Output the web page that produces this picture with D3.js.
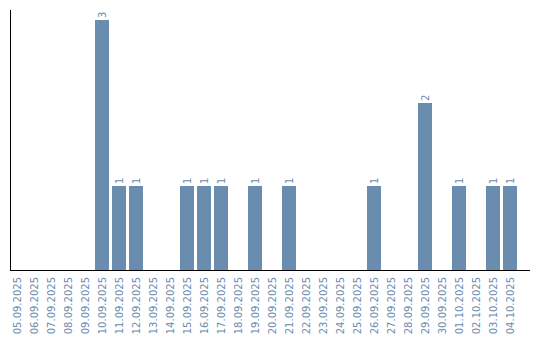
<!DOCTYPE html>
<html>
<head>
<meta charset="utf-8">
<script src="https://cdn.jsdelivr.net/npm/d3@7"></script>
<style>
  body { margin: 0; background: #fff; }
  svg text {
    font-family: "DejaVu Sans", sans-serif;
    font-size: 10px;
    fill: #6a8caf;
    -webkit-font-smoothing: none;
    text-rendering: optimizeSpeed;
  }
</style>
</head>
<body>
<svg id="chart" width="540" height="340"></svg>
<script>
// Data
const dates = [
  "05.09.2025", "06.09.2025", "07.09.2025", "08.09.2025", "09.09.2025",
  "10.09.2025", "11.09.2025", "12.09.2025", "13.09.2025", "14.09.2025",
  "15.09.2025", "16.09.2025", "17.09.2025", "18.09.2025", "19.09.2025",
  "20.09.2025", "21.09.2025", "22.09.2025", "23.09.2025", "24.09.2025",
  "25.09.2025", "26.09.2025", "27.09.2025", "28.09.2025", "29.09.2025",
  "30.09.2025", "01.10.2025", "02.10.2025", "03.10.2025", "04.10.2025"
];
const counts = [0, 0, 0, 0, 0, 3, 1, 1, 0, 0, 1, 1, 1, 0, 1, 0, 1, 0, 0, 0, 0, 1, 0, 0, 2, 0, 1, 0, 1, 1];

const svg = d3.select("#chart");
const barColor = "#6a8caf";

const data = dates.map((d, i) => ({ date: d, value: counts[i] }));

// Scales
const x = d3.scaleBand()
  .domain(dates)
  .range([10, 517])
  .paddingInner(3 / 17)
  .paddingOuter(0);

const y = d3.scaleLinear()
  .domain([0, 3])
  .range([269, 20]);

// Bars
svg.selectAll("rect.bar")
  .data(data.filter(d => d.value > 0))
  .enter()
  .append("rect")
  .attr("class", "bar")
  .attr("x", d => x(d.date))
  .attr("y", d => y(d.value))
  .attr("width", x.bandwidth())
  .attr("height", d => y(0) - y(d.value) + 1)
  .attr("fill", barColor);

// Value labels
svg.selectAll("text.value")
  .data(data.filter(d => d.value > 0))
  .enter()
  .append("text")
  .attr("class", "value")
  .attr("transform", d => `translate(${x(d.date) + x.bandwidth() / 2}, ${y(d.value) - 2}) rotate(-90)`)
  .attr("dy", "0.35em")
  .attr("text-anchor", "start")
  .text(d => d.value);

// X tick labels
svg.selectAll("text.tick")
  .data(dates)
  .enter()
  .append("text")
  .attr("class", "tick")
  .attr("transform", d => `translate(${x(d) + x.bandwidth() / 2}, 277) rotate(-90)`)
  .attr("dy", "0.35em")
  .attr("text-anchor", "end")
  .text(d => d);

// Axis lines
svg.append("line")
  .attr("x1", 10.5).attr("x2", 10.5)
  .attr("y1", 10).attr("y2", 270)
  .attr("stroke", "#000");

svg.append("line")
  .attr("x1", 10).attr("x2", 530)
  .attr("y1", 270.5).attr("y2", 270.5)
  .attr("stroke", "#000");
</script>
</body>
</html>
